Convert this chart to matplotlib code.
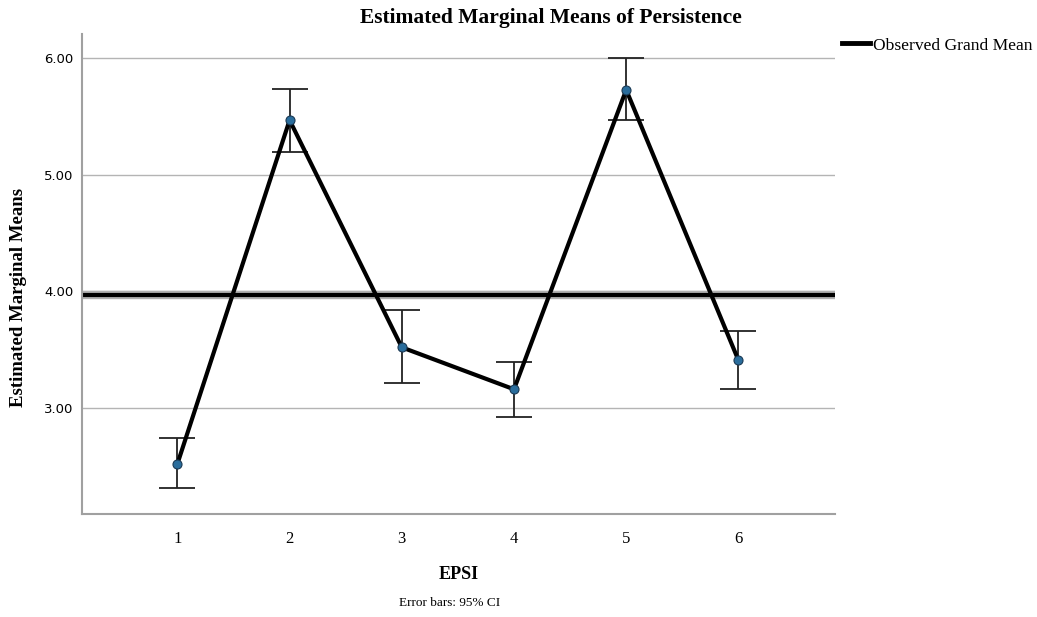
import numpy as np
import matplotlib.pyplot as plt
from matplotlib.lines import Line2D

epsi = [1, 2, 3, 4, 5, 6]
means = [2.52, 5.47, 3.52, 3.16, 5.73, 3.41]
ci_low = [2.31, 5.20, 3.21, 2.92, 5.47, 3.16]
ci_high = [2.74, 5.74, 3.84, 3.39, 6.00, 3.66]
grand_mean = 3.97
yticks = [3.0, 4.0, 5.0, 6.0]

fig = plt.figure(figsize=(10.37, 6.17), dpi=100)
ax = fig.add_axes([0.0791, 0.167, 0.726, 0.778])

means = np.array(means)
err = [means - np.array(ci_low), np.array(ci_high) - means]

for y in yticks:
    ax.axhline(y, color='#b4b4b4', linewidth=1, zorder=0)

ax.axhline(grand_mean, color='#b0b0b0', linewidth=6, zorder=1)
ax.axhline(grand_mean, color='black', linewidth=3, zorder=2)

ax.errorbar(epsi, means, yerr=err, fmt='none', ecolor='#222222',
            elinewidth=1.3, capsize=13, capthick=1.3, zorder=3)
ax.plot(epsi, means, color='black', linewidth=3, zorder=4)
ax.plot(epsi, means, 'o', markersize=6.5, markerfacecolor='#2a6d9c',
        markeredgecolor='#1b3a55', markeredgewidth=0.8, zorder=5)

ax.set_xlim(0.15, 6.86)
ax.set_ylim(2.09, 6.21)
ax.set_xticks(epsi)
ax.set_xticklabels([str(e) for e in epsi], fontfamily='Liberation Serif',
                   fontsize=12)
ax.set_yticks(yticks)
ax.set_yticklabels([f'{y:.2f}' for y in yticks], fontfamily='DejaVu Sans',
                   fontsize=9.5)
ax.tick_params(length=0, pad=6)
ax.tick_params(axis='x', pad=12)

for s in ['top', 'right']:
    ax.spines[s].set_visible(False)
for s in ['left', 'bottom']:
    ax.spines[s].set_color('#a0a0a0')
    ax.spines[s].set_linewidth(1.5)

ax.set_xlabel('EPSI', fontfamily='Liberation Serif', fontweight='bold',
              fontsize=13, labelpad=14)
ax.set_ylabel('Estimated Marginal Means', fontfamily='Liberation Serif',
              fontweight='bold', fontsize=13.5)
ax.yaxis.set_label_coords(-0.073, 0.452)
fig.text(0.531, 0.971, 'Estimated Marginal Means of Persistence',
         fontfamily='Liberation Serif', fontweight='bold', fontsize=15.5,
         ha='center', va='center')
fig.text(0.4335, 0.022, 'Error bars: 95% CI', fontfamily='Liberation Serif',
         fontsize=9.5, ha='center', va='center')

handle = Line2D([], [], color='black', linewidth=3.5)
fig.legend([handle], ['Observed Grand Mean'], loc='upper left',
           bbox_to_anchor=(0.797, 0.965), frameon=False, handlelength=1.6,
           handletextpad=0.15, prop={'family': 'Liberation Serif', 'size': 12.6})

fig.savefig('out.png', dpi=100)
